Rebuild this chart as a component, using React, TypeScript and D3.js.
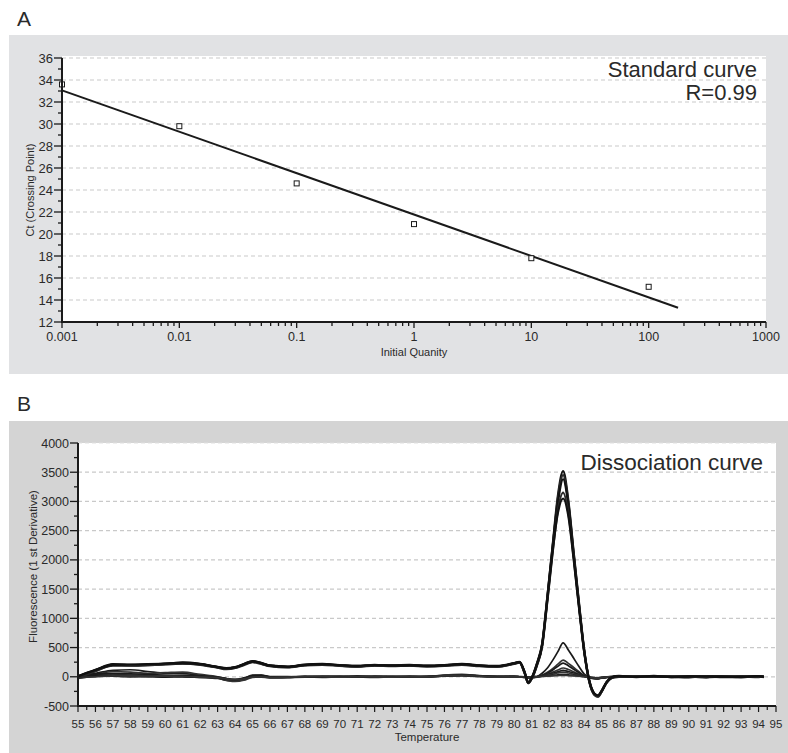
import * as d3 from "d3";

const W = 788;
const H = 753;
const FONT = "'Liberation Sans', Arial, Helvetica, sans-serif";

// ---- panel A: standard curve ----
const QUANTITIES = [0.001, 0.01, 0.1, 1, 10, 100];
const CT_VALUES = [33.6, 29.8, 24.6, 20.9, 17.8, 15.2];
const FIT_SPAN = [0.001, 178];
const A_X_TICKS = [0.001, 0.01, 0.1, 1, 10, 100, 1000];
const A_X_LABELS = ["0.001", "0.01", "0.1", "1", "10", "100", "1000"];
const A_Y_TICKS = [12, 14, 16, 18, 20, 22, 24, 26, 28, 30, 32, 34, 36];

// ---- panel B: dissociation curve ----
const TEMPS = [
  55, 56, 57, 58, 59, 60, 61, 62, 63,
  63.5, 64, 64.5, 65, 65.5, 66,
  67, 68, 69, 70, 71, 72, 73, 74, 75, 76, 77, 78, 79, 80,
  80.3, 80.6, 80.8,
  81, 81.3, 81.6, 81.9, 82.2, 82.5, 82.8, 83.1, 83.4, 83.7, 84, 84.3, 84.6,
  84.8, 85, 85.3, 85.6, 86,
  87, 88, 89, 90, 91, 92, 93, 94, 94.3,
];

const MAIN_1 = [
  0, 110, 210, 200, 210, 220, 240, 215, 165,
  140, 160, 215, 265, 235, 190,
  170, 205, 215, 195, 180, 200, 190, 200, 185, 195, 215, 190, 180, 230,
  250, 70, -100,
  -20, 220, 560, 1380, 2250, 3100, 3520, 3020, 2150, 1300, 480, -70, -300,
  -330, -250, -90, -10, 10,
  0, 15, -5, 10, 0, 5, -10, 10, 0,
];
const MAIN_2 = [
  -20, 95, 200, 195, 205, 225, 230, 210, 160,
  135, 150, 210, 255, 225, 185,
  165, 200, 210, 200, 185, 205, 185, 195, 180, 190, 210, 185, 175, 225,
  245, 60, -110,
  -30, 200, 540, 1350, 2200, 3050, 3450, 2980, 2120, 1270, 460, -80, -310,
  -340, -260, -100, -20, 0,
  10, 5, 0, -10, 10, 0, 5, -5, 10,
];
const MAIN_3 = [
  10, 120, 215, 205, 200, 215, 245, 220, 170,
  150, 165, 220, 270, 240, 195,
  175, 210, 220, 190, 175, 195, 195, 205, 190, 200, 220, 195, 185, 235,
  255, 80, -95,
  -15, 230, 570, 1370, 2230, 2980, 3380, 2940, 2100, 1260, 470, -60, -290,
  -320, -240, -85, -5, 15,
  -5, 10, 5, 0, -5, 10, 0, 5, -5,
];
const MAIN_4 = [
  -10, 100, 190, 190, 200, 210, 225, 205, 155,
  130, 150, 200, 250, 220, 180,
  160, 195, 205, 185, 170, 190, 180, 190, 175, 185, 205, 180, 170, 220,
  240, 55, -110,
  -35, 190, 520, 1300, 2120, 2850, 3150, 2800, 2050, 1230, 440, -90, -310,
  -340, -260, -100, -15, 5,
  5, 0, 10, 5, -10, 5, 10, 0, 5,
];
const MAIN_5 = [
  5, 115, 205, 210, 215, 225, 235, 215, 165,
  145, 160, 210, 260, 230, 190,
  170, 200, 215, 200, 185, 200, 190, 195, 185, 195, 215, 190, 180, 230,
  250, 65, -100,
  -25, 210, 540, 1320, 2150, 2800, 3050, 2750, 2020, 1210, 450, -70, -290,
  -320, -250, -90, -10, 10,
  0, 10, -5, 5, 5, -5, 0, 10, 0,
];

const SMALL_1 = [
  10, 60, 110, 120, 90, 60, 55, 30, -20,
  -60, -70, -40, 20, 25, 0,
  -10, 0, 10, 5, 0, 10, 5, 0, -5, 20, 35, 15, 5, 10,
  5, 0, -10,
  -15, 0, 60, 150, 280, 430, 580, 460, 320, 180, 50, -10, -30,
  -30, -20, -10, 0, 5,
  -5, 10, 0, 5, 10, 0, -5, 5, 0,
];
const SMALL_2 = [
  -10, 40, 90, 80, 60, 70, 80, 40, 0,
  -40, -60, -30, 30, 20, -5,
  -5, 5, 0, 10, 5, 0, 10, 5, 0, 30, 40, 20, 10, 5,
  0, -5, -15,
  -10, 0, 30, 80, 140, 215, 285, 230, 160, 90, 25, -10, -25,
  -25, -15, -5, 5, 0,
  5, 0, 10, -5, 0, 5, 10, 0, 5,
];
const SMALL_3 = [
  0, 30, 40, 30, 20, 10, 20, 10, -10,
  -30, -70, -50, 0, 10, -10,
  0, -5, 5, 0, 10, 5, 0, 10, 5, 20, 30, 15, 0, 5,
  0, -10, -20,
  -15, -5, 20, 60, 115, 180, 235, 190, 130, 70, 15, -15, -25,
  -30, -20, -10, 0, 5,
  0, 5, -5, 10, 5, 0, -5, 5, -5,
];
const SMALL_4 = [
  -20, 20, 30, 20, 10, 0, 10, 0, -20,
  -50, -60, -40, 10, 0, -15,
  -10, 0, -5, 5, 0, -5, 5, 0, 10, 25, 35, 10, 5, 0,
  -5, -10, -15,
  -10, 0, 15, 40, 80, 115, 150, 125, 85, 45, 10, -15, -20,
  -25, -15, -5, 0, -5,
  5, 0, -5, 5, 10, -5, 0, 10, 0,
];
const SMALL_5 = [
  20, 50, 60, 50, 40, 30, 20, 10, -5,
  -30, -50, -20, 20, 30, 5,
  0, 10, 0, -5, 10, 0, -5, 5, 0, 15, 25, 15, 5, 0,
  0, -5, -10,
  -5, 5, 15, 35, 60, 85, 110, 90, 65, 35, 10, -5, -15,
  -20, -10, 0, 5, 0,
  0, -5, 5, 0, -5, 10, 0, -5, 5,
];
const SMALL_6 = [
  -30, 10, 20, 25, 15, 10, 5, -10, -30,
  -60, -80, -60, -10, -5, -20,
  -15, -5, -10, 0, -5, -10, 0, -5, 5, 20, 25, 5, 0, -5,
  -5, -10, -10,
  -5, 0, 10, 25, 45, 65, 80, 65, 45, 25, 5, -10, -15,
  -20, -10, -5, 0, 5,
  -5, 5, 0, -10, 5, 0, 5, -5, 0,
];
const FLAT_1 = [
  5, 20, 10, 0, 5, -5, 0, -10, -20,
  -40, -50, -30, 0, 10, 0,
  5, -5, 0, 5, -5, 5, 0, -5, 5, 10, 20, 5, 0, 5,
  0, -5, -5,
  0, 5, 10, 15, 25, 35, 40, 35, 25, 15, 5, -15, -30,
  -35, -25, -10, 0, 5,
  10, -5, 5, 0, 10, -5, 5, 0, 10,
];
const FLAT_2 = [
  -15, 0, 15, 10, 0, 10, 5, -5, -15,
  -35, -45, -35, -5, 0, -10,
  -5, 0, 5, -5, 0, 5, -5, 0, 0, 15, 20, 10, -5, 0,
  -5, 0, -10,
  -5, 0, 5, 10, 15, 20, 25, 20, 15, 10, 0, -10, -25,
  -30, -20, -5, 5, 0,
  -5, 10, 0, 5, -10, 5, 0, 10, -5,
];

const MAIN_CURVES = [MAIN_1, MAIN_2, MAIN_3, MAIN_4, MAIN_5];
const LOW_CURVES = [SMALL_1, SMALL_2, SMALL_3, SMALL_4, SMALL_5, SMALL_6, FLAT_1, FLAT_2];
const B_Y_TICKS = [-500, 0, 500, 1000, 1500, 2000, 2500, 3000, 3500, 4000];
const B_X_TICKS = d3.range(55, 96);

// layout
const A_BOX = { x: 9, y: 35, w: W - 9, h: 339 };
const A_PLOT = { left: 62, right: 766, top: 58, bottom: 322 };
const B_BOX = { x: 9, y: 421, w: W - 9, h: H - 421 };
const B_PLOT = { left: 78, right: 776, top: 443, bottom: 706 };

const GRID = "#c9c9c9";
const INK = "#1a1a1a";
const TXT = "#2a2a2a";

function StandardCurve() {
  const x = d3.scaleLog().domain([0.001, 1000]).range([A_PLOT.left, A_PLOT.right]);
  const y = d3.scaleLinear().domain([12, 36]).range([A_PLOT.bottom, A_PLOT.top]);

  // least squares fit on log10(quantity)
  const lx = QUANTITIES.map((q) => Math.log10(q));
  const mx = d3.mean(lx) ?? 0;
  const my = d3.mean(CT_VALUES) ?? 0;
  const sxy = d3.sum(lx, (v, i) => (v - mx) * (CT_VALUES[i] - my));
  const sxx = d3.sum(lx, (v) => (v - mx) ** 2);
  const slope = sxy / sxx;
  const fitAt = (q: number) => my + slope * (Math.log10(q) - mx);

  const minorX: number[] = [];
  A_X_TICKS.slice(0, -1).forEach((d) => {
    for (let k = 2; k <= 9; k++) minorX.push(d * k);
  });
  const minorY = d3.range(13, 36, 2);

  return (
    <g>
      <text x={17} y={26} fontSize={21} fill={TXT}>A</text>
      <rect x={A_BOX.x} y={A_BOX.y} width={A_BOX.w} height={A_BOX.h} fill="#e1e2e4" />
      <rect
        x={A_PLOT.left}
        y={A_PLOT.top - 2}
        width={A_PLOT.right - A_PLOT.left}
        height={A_PLOT.bottom - A_PLOT.top + 2}
        fill="#fff"
      />
      {A_Y_TICKS.filter((t) => t > 12).map((t) => (
        <line
          key={`ga-${t}`}
          x1={A_PLOT.left}
          x2={A_PLOT.right}
          y1={y(t)}
          y2={y(t)}
          stroke={GRID}
          strokeWidth={1.2}
          strokeDasharray="4 3"
        />
      ))}

      <line
        x1={x(FIT_SPAN[0])}
        y1={y(fitAt(FIT_SPAN[0]))}
        x2={x(FIT_SPAN[1])}
        y2={y(fitAt(FIT_SPAN[1]))}
        stroke={INK}
        strokeWidth={2}
      />
      {QUANTITIES.map((q, i) => (
        <rect
          key={`pt-${q}`}
          x={x(q) - 2.5}
          y={y(CT_VALUES[i]) - 2.5}
          width={5}
          height={5}
          fill="#fff"
          stroke={INK}
          strokeWidth={1}
        />
      ))}

      {/* axes */}
      <line x1={A_PLOT.left} x2={A_PLOT.left} y1={A_PLOT.top} y2={A_PLOT.bottom + 1} stroke={INK} strokeWidth={2} />
      <line x1={A_PLOT.left - 1} x2={A_PLOT.right} y1={A_PLOT.bottom} y2={A_PLOT.bottom} stroke={INK} strokeWidth={2} />
      {A_Y_TICKS.map((t) => (
        <g key={`ya-${t}`}>
          <line x1={A_PLOT.left - 8} x2={A_PLOT.left} y1={y(t)} y2={y(t)} stroke={INK} strokeWidth={1.3} />
          <text x={A_PLOT.left - 9} y={y(t)} dy="0.36em" textAnchor="end" fontSize={13} fill={TXT}>
            {t}
          </text>
        </g>
      ))}
      {minorY.map((t) => (
        <line key={`yam-${t}`} x1={A_PLOT.left - 4} x2={A_PLOT.left} y1={y(t)} y2={y(t)} stroke={INK} strokeWidth={1.3} />
      ))}
      {A_X_TICKS.map((t, i) => (
        <g key={`xa-${t}`}>
          <line x1={x(t)} x2={x(t)} y1={A_PLOT.bottom} y2={A_PLOT.bottom + 6} stroke={INK} strokeWidth={1.3} />
          <text x={x(t)} y={A_PLOT.bottom + 19} textAnchor="middle" fontSize={12.5} fill={TXT}>
            {A_X_LABELS[i]}
          </text>
        </g>
      ))}
      {minorX.map((t) => (
        <line key={`xam-${t}`} x1={x(t)} x2={x(t)} y1={A_PLOT.bottom} y2={A_PLOT.bottom + 4} stroke={INK} strokeWidth={1.3} />
      ))}
      <text x={(A_PLOT.left + A_PLOT.right) / 2} y={A_PLOT.bottom + 34} textAnchor="middle" fontSize={11} fill={TXT}>
        Initial Quanity
      </text>
      <text
        transform={`translate(34 ${(A_PLOT.top + A_PLOT.bottom) / 2}) rotate(-90)`}
        textAnchor="middle"
        fontSize={11}
        fill={TXT}
      >
        Ct (Crossing Point)
      </text>

      <text x={757} y={77} textAnchor="end" fontSize={22} fill={TXT}>Standard curve</text>
      <text x={757} y={100} textAnchor="end" fontSize={22} fill={TXT}>R=0.99</text>
    </g>
  );
}

function DissociationCurve() {
  const x = d3.scaleLinear().domain([55, 95]).range([B_PLOT.left, B_PLOT.right]);
  const y = d3.scaleLinear().domain([-500, 4000]).range([B_PLOT.bottom, B_PLOT.top]);
  const line = d3
    .line<number>()
    .x((_, i) => x(TEMPS[i]))
    .y((v) => y(v))
    .curve(d3.curveMonotoneX);

  const minorY = d3.range(-250, 4000, 500);
  const halfX = d3.range(55.5, 95, 1);

  return (
    <g>
      <text x={17} y={411} fontSize={21} fill={TXT}>B</text>
      <rect x={B_BOX.x} y={B_BOX.y} width={B_BOX.w} height={B_BOX.h} fill="#d4d4d4" />
      <rect
        x={B_PLOT.left}
        y={B_PLOT.top}
        width={B_PLOT.right - B_PLOT.left}
        height={B_PLOT.bottom - B_PLOT.top}
        fill="#fff"
      />
      {B_Y_TICKS.filter((t) => t > -500).map((t) => (
        <line
          key={`gb-${t}`}
          x1={B_PLOT.left}
          x2={B_PLOT.right}
          y1={y(t)}
          y2={y(t)}
          stroke={t === 4000 ? "#e0e0e0" : GRID}
          strokeWidth={1.2}
          strokeDasharray="4 3"
        />
      ))}

      {LOW_CURVES.map((vals, i) => (
        <path key={`low-${i}`} d={line(vals) ?? ""} fill="none" stroke={i % 2 ? "#333" : INK} strokeWidth={1.7} />
      ))}
      {MAIN_CURVES.map((vals, i) => (
        <path key={`main-${i}`} d={line(vals) ?? ""} fill="none" stroke={i % 2 ? "#2a2a2a" : "#111"} strokeWidth={2.2} />
      ))}

      {/* axes */}
      <line x1={B_PLOT.left} x2={B_PLOT.left} y1={B_PLOT.top} y2={B_PLOT.bottom + 1} stroke={INK} strokeWidth={2} />
      <line x1={B_PLOT.left - 1} x2={B_PLOT.right} y1={B_PLOT.bottom} y2={B_PLOT.bottom} stroke={INK} strokeWidth={2} />
      {B_Y_TICKS.map((t) => (
        <g key={`yb-${t}`}>
          <line x1={B_PLOT.left - 8} x2={B_PLOT.left} y1={y(t)} y2={y(t)} stroke={INK} strokeWidth={1.3} />
          <text x={B_PLOT.left - 9} y={y(t)} dy="0.36em" textAnchor="end" fontSize={12.5} fill={TXT}>
            {t}
          </text>
        </g>
      ))}
      {minorY.map((t) => (
        <line key={`ybm-${t}`} x1={B_PLOT.left - 4} x2={B_PLOT.left} y1={y(t)} y2={y(t)} stroke={INK} strokeWidth={1.3} />
      ))}
      {B_X_TICKS.map((t) => (
        <g key={`xb-${t}`}>
          <line x1={x(t)} x2={x(t)} y1={B_PLOT.bottom} y2={B_PLOT.bottom + 6} stroke={INK} strokeWidth={1.2} />
          <text x={x(t)} y={B_PLOT.bottom + 22} textAnchor="middle" fontSize={11.5} fill={TXT}>
            {t}
          </text>
        </g>
      ))}
      {halfX.map((t) => (
        <line key={`xbm-${t}`} x1={x(t)} x2={x(t)} y1={B_PLOT.bottom} y2={B_PLOT.bottom + 4} stroke={INK} strokeWidth={1.2} />
      ))}
      <text x={(B_PLOT.left + B_PLOT.right) / 2} y={741} textAnchor="middle" fontSize={11.5} fill={TXT}>
        Temperature
      </text>
      <text
        transform={`translate(37 ${(B_PLOT.top + B_PLOT.bottom) / 2 - 8}) rotate(-90)`}
        textAnchor="middle"
        fontSize={11.5}
        fill={TXT}
      >
        Fluorescence (1 st Derivative)
      </text>

      <text x={763} y={470} textAnchor="end" fontSize={22.5} fill={TXT}>Dissociation curve</text>
    </g>
  );
}

export default function App() {
  return (
    <svg
      width={W}
      height={H}
      viewBox={`0 0 ${W} ${H}`}
      style={{ position: "absolute", left: 0, top: 0, background: "#fff" }}
      fontFamily={FONT}
    >
      <StandardCurve />
      <DissociationCurve />
    </svg>
  );
}
